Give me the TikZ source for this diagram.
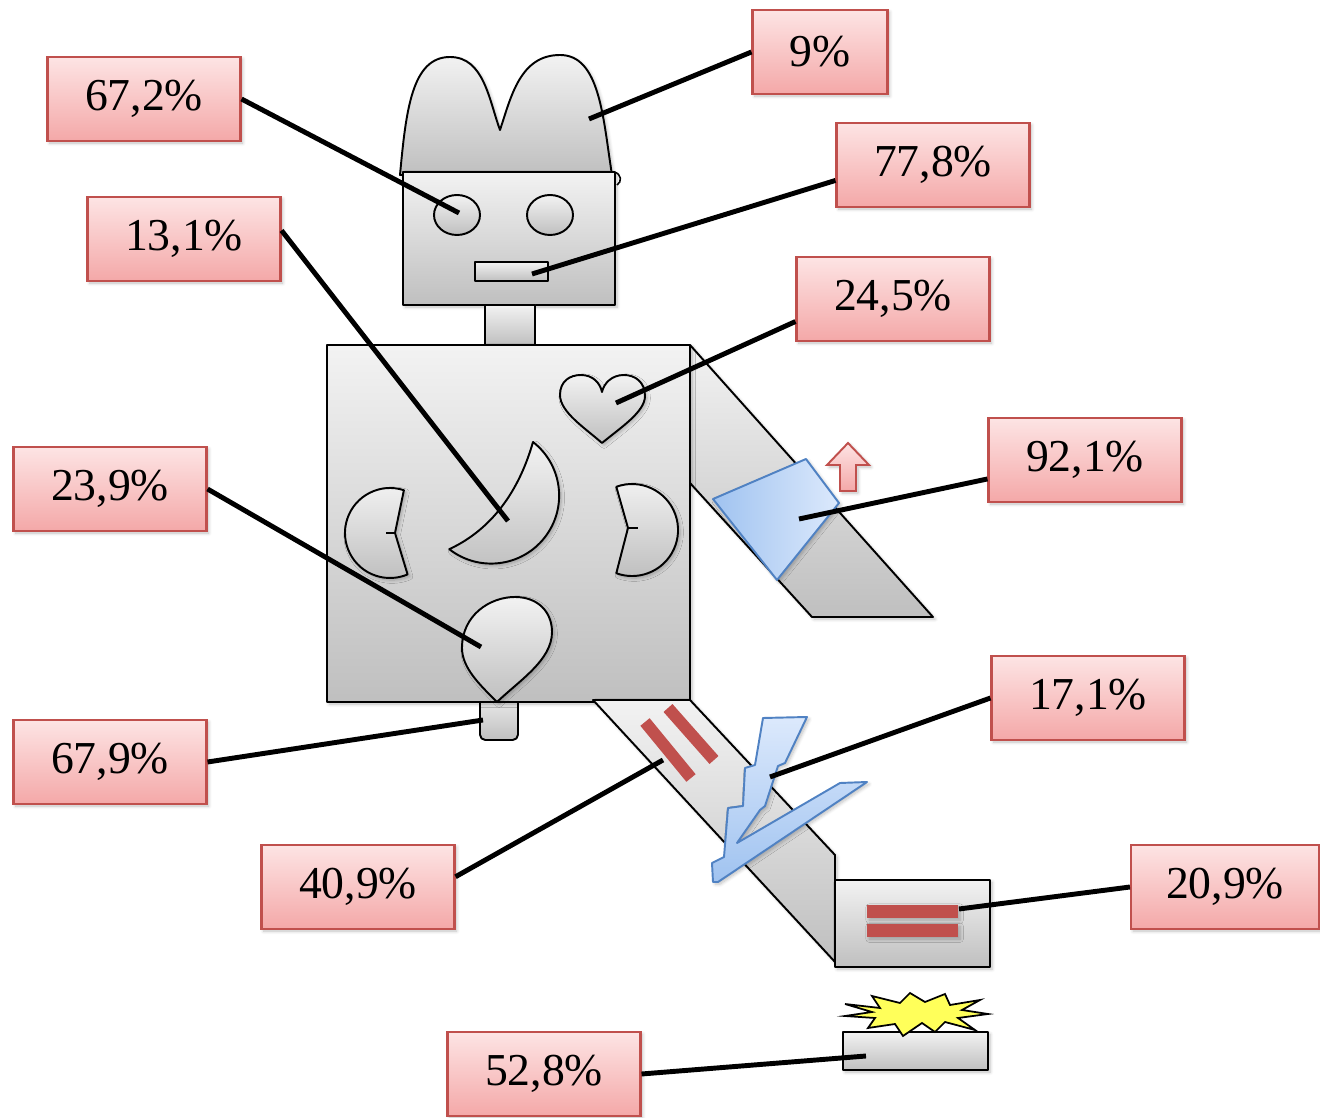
\documentclass[tikz,border=0pt]{standalone}
\usepackage{fontspec}
\setmainfont{Liberation Serif}
\usetikzlibrary{calc,shadows.blur}
\definecolor{lblTop}{RGB}{253,228,228}
\definecolor{lblBot}{RGB}{244,168,168}
\definecolor{lblLine}{RGB}{192,80,77}
\definecolor{barRed}{RGB}{192,80,77}
\definecolor{blueLine}{RGB}{80,130,195}
\definecolor{blueA}{RGB}{160,195,240}
\definecolor{blueB}{RGB}{220,233,252}
\definecolor{starYellow}{RGB}{255,255,90}
\begin{document}
\begin{tikzpicture}[x=0.02cm,y=0.02cm,
  part/.style={draw=black,line width=1.1pt,top color=black!5,bottom color=black!25,line join=round},
  softshadow/.style={blur shadow={shadow xshift=1.2pt,shadow yshift=-1.2pt,shadow blur steps=6,shadow opacity=25}},
  pct/.style={draw=lblLine,line width=1.2pt,top color=lblTop,bottom color=lblBot,
    minimum width=3.86cm,minimum height=1.68cm,inner sep=0pt,
    font=\fontsize{26}{31}\selectfont,softshadow},
  leader/.style={draw=black,line width=2.8pt},
  redbar/.style={draw=none,fill=barRed},
  bluepart/.style={draw=blueLine,line width=1.1pt,left color=blueA,right color=blueB,line join=round}]
\useasboundingbox (0,0) rectangle (1320,-1118);

% hat
\path[part,softshadow] (400,-175) .. controls (406,-110) and (412,-57) .. (450,-57)
  .. controls (484,-57) and (489,-100) .. (500,-130)
  .. controls (511,-97) and (520,-55) .. (560,-55)
  .. controls (600,-55) and (603,-118) .. (612,-175) -- cycle;
\draw[line width=0.9pt] (614,-172) .. controls (622,-174) and (622,-182) .. (617,-185);

% head with eyes and mouth
\path[part,softshadow] (403,-172) rectangle (615,-305);
\path[part] (457,-215) ellipse [x radius=23, y radius=20];
\path[part] (550,-215) ellipse [x radius=23, y radius=20];
\path[part] (475,-262) rectangle (548,-281);

% neck
\path[part] (485,-305) rectangle (535,-345);

% right arm, partly behind the body
\path[part,softshadow] (690,-345) -- (933,-617) -- (812,-617) -- (690,-483) -- cycle;

% stub below the body
\path[part,rounded corners=3pt] (480,-690) -- (480,-740) -- (518,-740) -- (518,-690) -- cycle;

% body
\path[part,softshadow] (327,-345) rectangle (690,-702);

% shapes on the body
\path[part,softshadow] (602,-443) .. controls (585,-428) and (560,-412) .. (560,-395)
  .. controls (560,-381) and (570,-375) .. (581,-375)
  .. controls (593,-375) and (600,-383) .. (602,-392)
  .. controls (604,-383) and (612,-375) .. (624,-375)
  .. controls (635,-375) and (645,-382) .. (645,-396)
  .. controls (645,-412) and (620,-428) .. (602,-443) -- cycle;
\path[part,softshadow] (533,-442) arc[start angle=52, end angle=-128, radius=68]
  .. controls (480,-535) and (515,-505) .. (533,-442) -- cycle;
\path[part,softshadow] (403.9,-490.2) arc[start angle=72, end angle=293, radius=45]
  -- (395,-533) -- cycle;
\draw[line width=1pt] (395,-533) -- (386,-533);
\path[part,softshadow] (616.3,-486.8) arc[start angle=110, end angle=-110, radius=46]
  -- (628,-528) -- cycle;
\draw[line width=1pt] (628,-528) -- (638,-528);
\path[part,softshadow] (497,-702) .. controls (480,-685) and (462,-668) .. (462,-648)
  .. controls (462,-615) and (490,-597) .. (515,-597)
  .. controls (538,-597) and (552,-612) .. (552,-632)
  .. controls (552,-660) and (520,-680) .. (497,-702) -- cycle;

% leg and foot
\path[part,softshadow] (593,-700) -- (690,-700) -- (835,-855) -- (835,-962) -- cycle;
\path[part,softshadow] (835,-880) rectangle (990,-967);

% red marks
\draw[barRed,line width=6.8pt] (645,-722) -- (691,-778);
\draw[barRed,line width=6.8pt] (668,-708) -- (714,-760);
\path[redbar,softshadow] (867,-905) rectangle (958,-918);
\path[redbar,softshadow] (867,-924) rectangle (958,-937);

% lightning
\path[bluepart,top color=blueB,bottom color=blueA,softshadow]
  (763,-718) -- (807,-717) -- (785,-763) -- (778,-766) -- (765,-806) -- (760,-810)
  -- (737,-843) -- (840,-783) -- (867,-782) -- (718,-882) -- (713,-882) -- (712,-863)
  -- (724,-857) -- (728,-808) -- (743,-806) -- (745,-768) -- (755,-765) -- cycle;

% arm band and arrow
\path[bluepart,softshadow] (713,-499) -- (806,-459) -- (839,-503) -- (777,-580) -- cycle;
\path[draw=lblLine,line width=1.1pt,top color=lblTop,bottom color=lblBot,softshadow]
  (848,-443) -- (869,-465) -- (856,-465) -- (856,-491) -- (840,-491) -- (840,-465)
  -- (827,-465) -- cycle;

% box with burst
\path[part,softshadow] (843,-1032) rectangle (988,-1070);
\path[draw=black,line width=1pt,fill=starYellow,line join=miter]
  (845,-1004) -- (880,-1008) -- (872,-996) -- (900,-1003) -- (910,-993) -- (925,-1002)
  -- (945,-994) -- (950,-1005) -- (980,-1000) -- (962,-1010) -- (988,-1014)
  -- (958,-1018) -- (975,-1030) -- (945,-1022) -- (935,-1032) -- (922,-1023)
  -- (903,-1036) -- (895,-1024) -- (868,-1028) -- (875,-1018) -- (845,-1016)
  -- (872,-1012) -- cycle;

% leader end points
\coordinate (eye) at (459,-213);
\coordinate (hat) at (589,-119);
\coordinate (mouth) at (532,-274);
\coordinate (moon) at (508,-521);
\coordinate (heart) at (616,-403);
\coordinate (band) at (799,-519);
\coordinate (drop) at (481,-647);
\coordinate (stub) at (483,-720);
\coordinate (bolt) at (770,-777);
\coordinate (legbar) at (663,-760);
\coordinate (footbar) at (959,-909);
\coordinate (burst) at (866,-1056);

% labels
\node[pct] (l672) at (144,-99) {67,2\%};
\node[pct,minimum width=2.7cm] (l9) at (820,-52) {9\%};
\node[pct] (l778) at (933,-165) {77,8\%};
\node[pct] (l131) at (184,-239) {13,1\%};
\node[pct] (l245) at (893,-299) {24,5\%};
\node[pct] (l921) at (1085,-460) {92,1\%};
\node[pct] (l239) at (110,-489) {23,9\%};
\node[pct] (l679) at (110,-762) {67,9\%};
\node[pct] (l171) at (1088,-698) {17,1\%};
\node[pct] (l409) at (358,-887) {40,9\%};
\node[pct,minimum width=3.76cm] (l209) at (1225,-887) {20,9\%};
\node[pct] (l528) at (544,-1074) {52,8\%};

% leaders
\draw[leader] (l672.east) -- (eye);
\draw[leader] (l9.west) -- (hat);
\draw[leader] (l778.189) -- (mouth);
\draw[leader] (l131.5) -- (moon);
\draw[leader] (l245.193) -- (heart);
\draw[leader] (l921.191) -- (band);
\draw[leader] (l239.east) -- (drop);
\draw[leader] (l679.east) -- (stub);
\draw[leader] (l171.west) -- (bolt);
\draw[leader] (l409.6) -- (legbar);
\draw[leader] (l209.west) -- (footbar);
\draw[leader] (l528.east) -- (burst);
\end{tikzpicture}
\end{document}
